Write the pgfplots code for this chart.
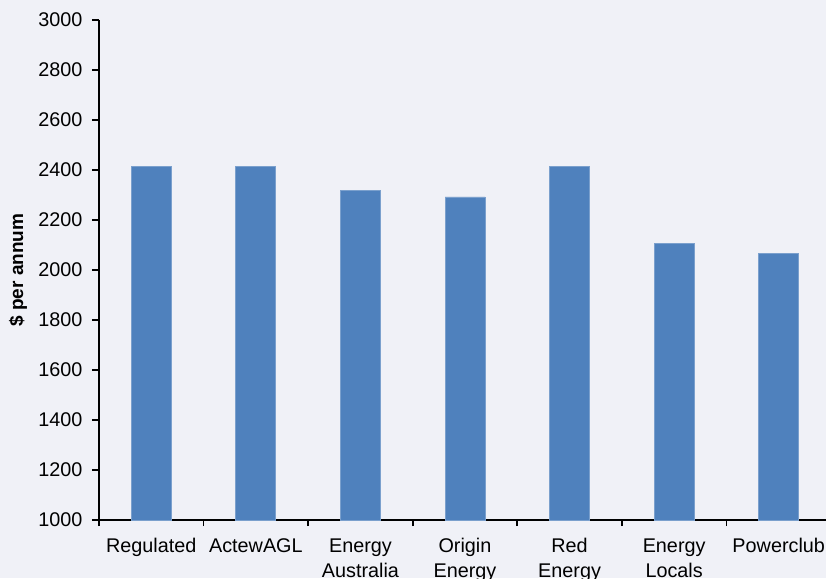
\documentclass[border=0pt]{standalone}
\usepackage{pgfplots}
\pgfplotsset{compat=1.18}
\usepackage{fontspec}
\setmainfont{Liberation Sans}
\definecolor{bg}{RGB}{240,241,247}
\definecolor{barblue}{RGB}{79,129,189}
\begin{document}
\begin{tikzpicture}
\fill[bg] (0,0) rectangle (826pt,578pt);
\begin{axis}[
  at={(99pt,58pt)}, anchor=south west,
  scale only axis, width=732pt, height=500pt,
  axis lines=left, axis line style={-, line width=1.6pt},
  ymin=1000, ymax=3000, ytick={1000,1200,...,3000},
  xmin=-0.5, xmax=6.5,
  xtick={0,...,6}, major x tick style={draw=none},
  minor xtick={-0.5,0.5,...,6.5},
  xticklabels={Regulated, ActewAGL, {Energy\\Australia}, {Origin\\Energy}, {Red\\Energy}, {Energy\\Locals}, Powerclub},
  tick align=outside, tick style={black, line width=1.6pt},
  major tick length=7pt, minor tick length=6pt,
  /pgf/number format/1000 sep={},
  /pgf/number format/assume math mode=true,
  ticklabel style={font=\fontsize{19.8}{25}\selectfont},
  xticklabel style={align=center, yshift=-8pt},
  yticklabel style={xshift=-6pt},
  ylabel={\$ per annum},
  every axis y label/.style={at={(rel axis cs:0,0.5)}, xshift=-81pt, rotate=90, anchor=center,
    font=\bfseries\fontsize{19}{22}\selectfont},
  ybar, bar width=40pt, bar shift=0pt,
  clip=false,
]
\addplot[fill=barblue, draw=barblue!75!white, line width=0.8pt] coordinates {
  (0,2415) (1,2415) (2,2317) (3,2292) (4,2415) (5,2107) (6,2067)};
\end{axis}
\pgfresetboundingbox
\useasboundingbox (0,0) rectangle (826pt,578pt);
\end{tikzpicture}
\end{document}
